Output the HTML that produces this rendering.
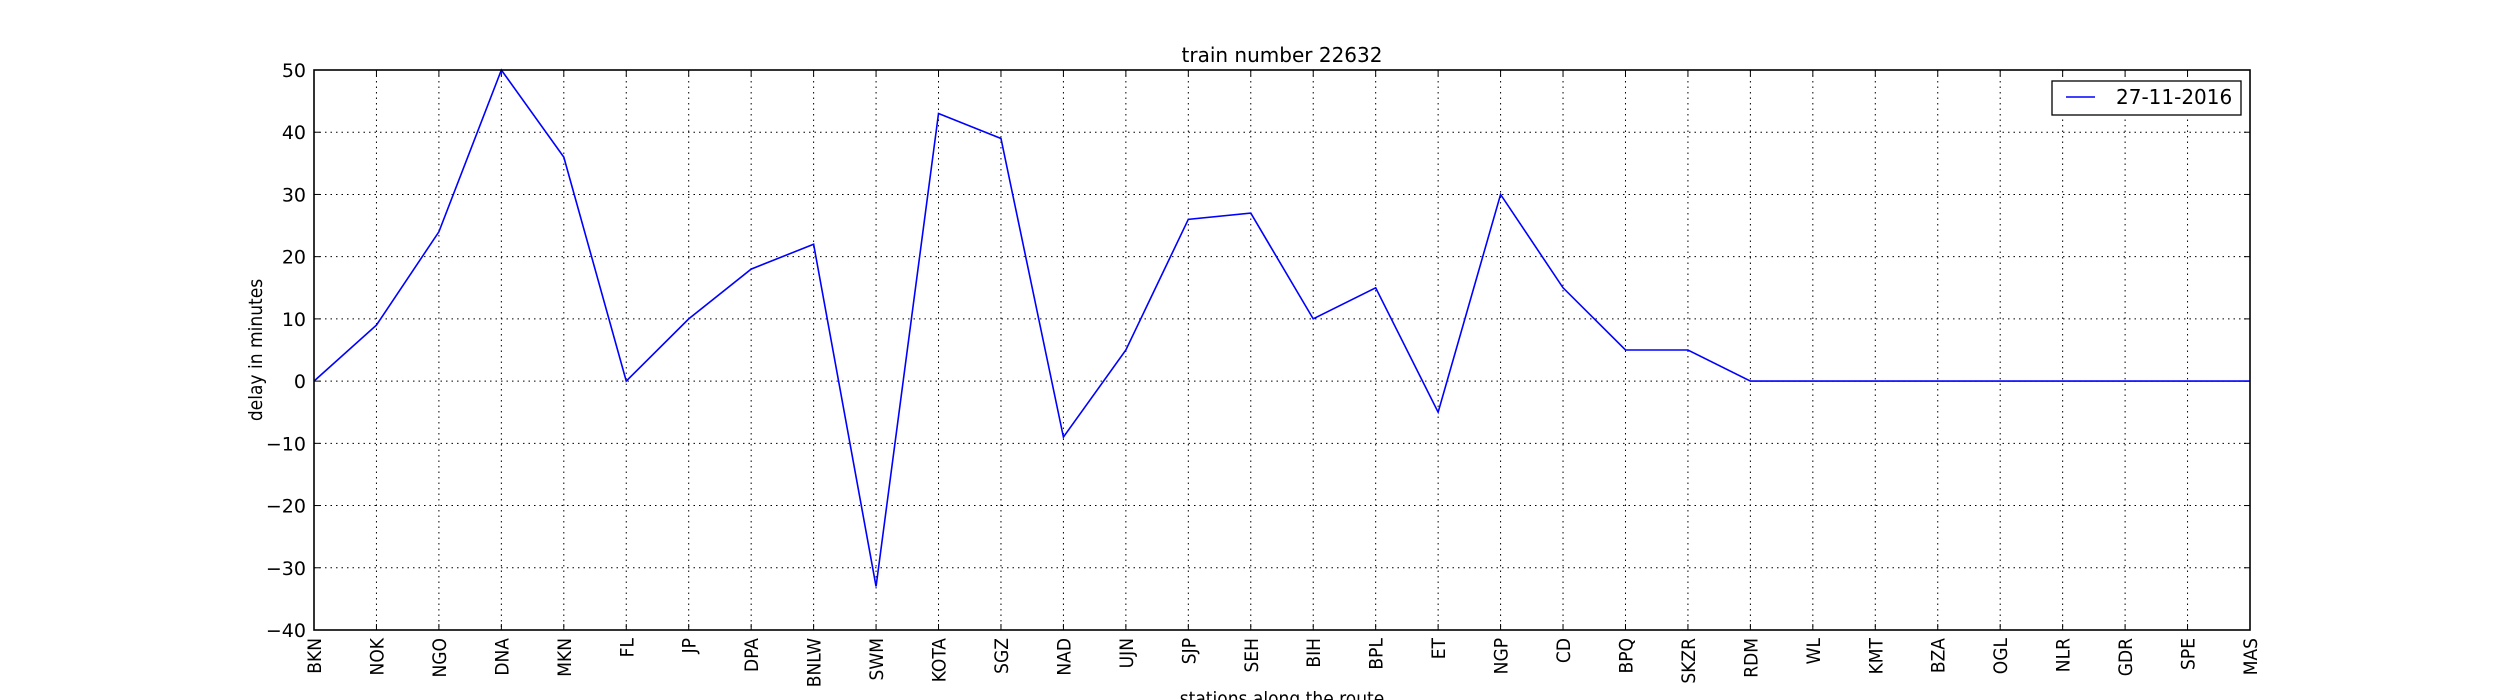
<!DOCTYPE html>
<html><head><meta charset="utf-8"><style>
body{margin:0;background:#fff;}
svg{display:block;}
text{font-family:"DejaVu Sans","Liberation Sans",sans-serif;fill:#000;}
.cond{font-family:"DejaVu Sans Condensed","Liberation Sans Narrow","DejaVu Sans",sans-serif;}
</style></head><body>
<svg id="chart" width="2500" height="700" viewBox="0 0 2500 700" xmlns="http://www.w3.org/2000/svg">
<rect width="2500" height="700" fill="#fff"/>
<text x="1282" y="62" font-size="20" text-anchor="middle">train number 22632</text>
<text class="cond" transform="translate(262,350) rotate(-90)" font-size="19" text-anchor="middle">delay in minutes</text>
<text class="cond" x="1282" y="705" font-size="19" text-anchor="middle">stations along the route</text>
<g id="grid"></g>
<g id="ticks"></g>
<polyline id="series" fill="none" stroke="#0000ff" stroke-width="1.6"/>
<rect x="314" y="70" width="1936" height="560" fill="none" stroke="#000" stroke-width="1.6"/>
<g>
<rect x="2052" y="81" width="189" height="34" fill="#fff" stroke="#000" stroke-width="1.3"/>
<line x1="2066" y1="97" x2="2095" y2="97" stroke="#0000ff" stroke-width="1.6"/>
<text x="2116" y="104" font-size="20">27-11-2016</text>
</g>
</svg>
<script>
const stations = ["BKN","NOK","NGO","DNA","MKN","FL","JP","DPA","BNLW","SWM","KOTA","SGZ","NAD","UJN","SJP","SEH","BIH","BPL","ET","NGP","CD","BPQ","SKZR","RDM","WL","KMT","BZA","OGL","NLR","GDR","SPE","MAS"];
const delays = [0,9,24,50,36,0,10,18,22,-33,43,39,-9,5,26,27,10,15,-5,30,15,5,5,0,0,0,0,0,0,0,0,0];
const yTicks = [-40,-30,-20,-10,0,10,20,30,40,50];
const yTickLabels = ["\u221240","\u221230","\u221220","\u221210","0","10","20","30","40","50"];

const L=314,R=2250,T=70,B=630,yMin=-40,yMax=50;
const xs=i=>L+(R-L)*i/(stations.length-1);
const ys=v=>B-(B-T)*(v-yMin)/(yMax-yMin);
const NS="http://www.w3.org/2000/svg";
const grid=document.getElementById('grid'), ticks=document.getElementById('ticks');
function mk(tag,attrs,parent){const e=document.createElementNS(NS,tag);for(const k in attrs)e.setAttribute(k,attrs[k]);parent.appendChild(e);return e;}
yTicks.forEach((v,i)=>{
  const y=ys(v);
  const g=mk('line',{x1:L,x2:R,y1:y,y2:y,stroke:'#000','stroke-width':1,'stroke-dasharray':'1.5,4'},grid);
  
  
  mk('line',{x1:L,x2:L+6,y1:y,y2:y,stroke:'#000'},ticks);
  mk('line',{x1:R-6,x2:R,y1:y,y2:y,stroke:'#000'},ticks);
  const t=mk('text',{x:L-8,y:y+7,'font-size':19,'text-anchor':'end'},ticks);
  t.textContent=yTickLabels[i];
  
  
});
stations.forEach((s,i)=>{
  const x=xs(i);
  const g=mk('line',{x1:x,x2:x,y1:T,y2:B,stroke:'#000','stroke-width':1,'stroke-dasharray':'1.5,4'},grid);
  
  
  mk('line',{x1:x,x2:x,y1:B-6,y2:B,stroke:'#000'},ticks);
  mk('line',{x1:x,x2:x,y1:T,y2:T+6,stroke:'#000'},ticks);
  const t=mk('text',{transform:`translate(${x+7},${B+8}) rotate(-90)`,'font-size':19,'text-anchor':'end',class:'cond'},ticks);
  t.textContent=s;
  
  
});
document.getElementById('series').setAttribute('points',delays.map((v,i)=>xs(i)+','+ys(v)).join(' '));
</script>
</body></html>
